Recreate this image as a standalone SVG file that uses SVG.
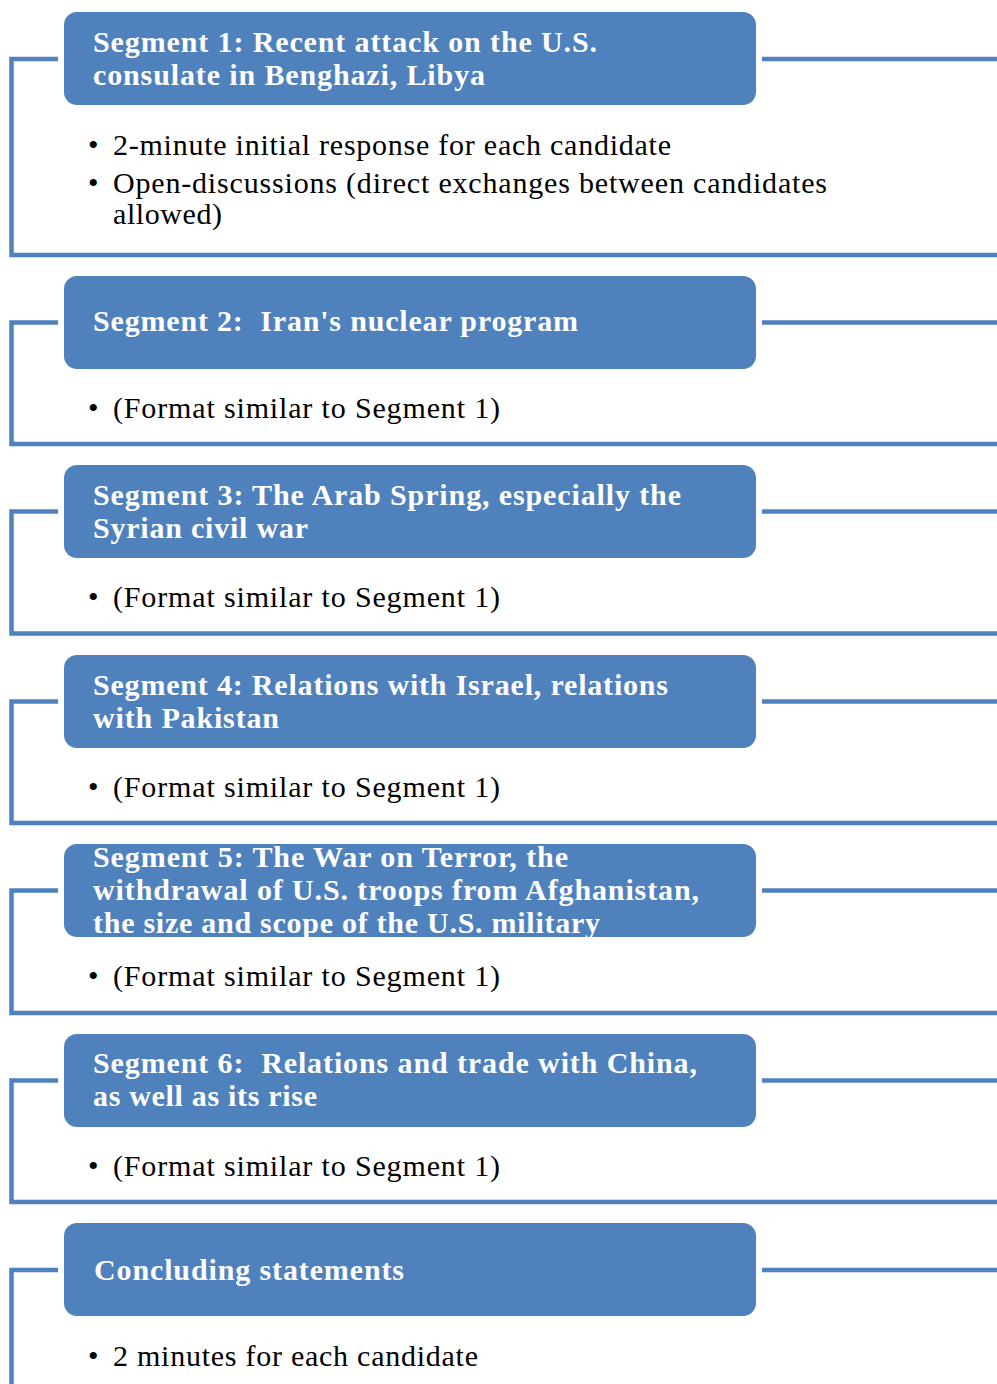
<svg xmlns="http://www.w3.org/2000/svg" width="997" height="1384" viewBox="0 0 997 1384">
<style>
.box{fill:#4F81BD;}
.hd{font-family:"Liberation Serif","Times New Roman",serif;font-weight:bold;font-size:30px;fill:#FFFFFF;}
.bd{font-family:"Liberation Serif","Times New Roman",serif;font-size:30px;fill:#000000;}
.ln{fill:none;stroke:#4F81BD;stroke-width:4.5;stroke-linecap:butt;stroke-linejoin:miter;}
</style>
<rect width="997" height="1384" fill="#FFFFFF"/>
<g id="connectors">
<path class="ln" d="M58 59 H11.5 V255 H997"/>
<path class="ln" d="M762 59 H997"/>
<path class="ln" d="M58 322.5 H11.5 V444 H997"/>
<path class="ln" d="M762 322.5 H997"/>
<path class="ln" d="M58 511.5 H11.5 V633.5 H997"/>
<path class="ln" d="M762 511.5 H997"/>
<path class="ln" d="M58 701.5 H11.5 V823 H997"/>
<path class="ln" d="M762 701.5 H997"/>
<path class="ln" d="M58 890.5 H11.5 V1013 H997"/>
<path class="ln" d="M762 890.5 H997"/>
<path class="ln" d="M58 1080.5 H11.5 V1202 H997"/>
<path class="ln" d="M762 1080.5 H997"/>
<path class="ln" d="M58 1270 H11.5 V1384"/>
<path class="ln" d="M762 1270 H997"/>
</g>
<g id="segment1">
<rect class="box" x="64" y="12" width="692" height="93" rx="13"/>
<text class="hd" x="93" y="52" textLength="504" lengthAdjust="spacing">Segment 1: Recent attack on the U.S.</text>
<text class="hd" x="93" y="85" textLength="392" lengthAdjust="spacing">consulate in Benghazi, Libya</text>
<text class="bd" x="88" y="155">•</text>
<text class="bd" x="113" y="155" textLength="558" lengthAdjust="spacing">2-minute initial response for each candidate</text>
<text class="bd" x="88" y="193">•</text>
<text class="bd" x="113" y="193" textLength="714" lengthAdjust="spacing">Open-discussions (direct exchanges between candidates</text>
<text class="bd" x="113" y="224" textLength="109" lengthAdjust="spacing">allowed)</text>
</g>
<g id="segment2">
<rect class="box" x="64" y="276" width="692" height="93" rx="13"/>
<text class="hd" x="93" y="331" xml:space="preserve" textLength="485" lengthAdjust="spacing">Segment 2:  Iran's nuclear program</text>
<text class="bd" x="88" y="418">•</text>
<text class="bd" x="113" y="418" textLength="387" lengthAdjust="spacing">(Format similar to Segment 1)</text>
</g>
<g id="segment3">
<rect class="box" x="64" y="465" width="692" height="93" rx="13"/>
<text class="hd" x="93" y="505" textLength="588" lengthAdjust="spacing">Segment 3: The Arab Spring, especially the</text>
<text class="hd" x="93" y="538" textLength="215" lengthAdjust="spacing">Syrian civil war</text>
<text class="bd" x="88" y="607">•</text>
<text class="bd" x="113" y="607" textLength="387" lengthAdjust="spacing">(Format similar to Segment 1)</text>
</g>
<g id="segment4">
<rect class="box" x="64" y="655" width="692" height="93" rx="13"/>
<text class="hd" x="93" y="695" textLength="575" lengthAdjust="spacing">Segment 4: Relations with Israel, relations</text>
<text class="hd" x="93" y="728" textLength="186" lengthAdjust="spacing">with Pakistan</text>
<text class="bd" x="88" y="797">•</text>
<text class="bd" x="113" y="797" textLength="387" lengthAdjust="spacing">(Format similar to Segment 1)</text>
</g>
<g id="segment5">
<rect class="box" x="64" y="844" width="692" height="93" rx="13"/>
<text class="hd" x="93" y="867" textLength="475" lengthAdjust="spacing">Segment 5: The War on Terror, the</text>
<text class="hd" x="93" y="900" textLength="606" lengthAdjust="spacing">withdrawal of U.S. troops from Afghanistan,</text>
<text class="hd" x="93" y="933" textLength="507" lengthAdjust="spacing">the size and scope of the U.S. military</text>
<text class="bd" x="88" y="986">•</text>
<text class="bd" x="113" y="986" textLength="387" lengthAdjust="spacing">(Format similar to Segment 1)</text>
</g>
<g id="segment6">
<rect class="box" x="64" y="1034" width="692" height="93" rx="13"/>
<text class="hd" x="93" y="1073" xml:space="preserve" textLength="604" lengthAdjust="spacing">Segment 6:  Relations and trade with China,</text>
<text class="hd" x="93" y="1106" textLength="224" lengthAdjust="spacing">as well as its rise</text>
<text class="bd" x="88" y="1176">•</text>
<text class="bd" x="113" y="1176" textLength="387" lengthAdjust="spacing">(Format similar to Segment 1)</text>
</g>
<g id="concluding">
<rect class="box" x="64" y="1223" width="692" height="93" rx="13"/>
<text class="hd" x="94" y="1280" textLength="310" lengthAdjust="spacing">Concluding statements</text>
<text class="bd" x="88" y="1366">•</text>
<text class="bd" x="113" y="1366" textLength="365" lengthAdjust="spacing">2 minutes for each candidate</text>
</g>
</svg>
